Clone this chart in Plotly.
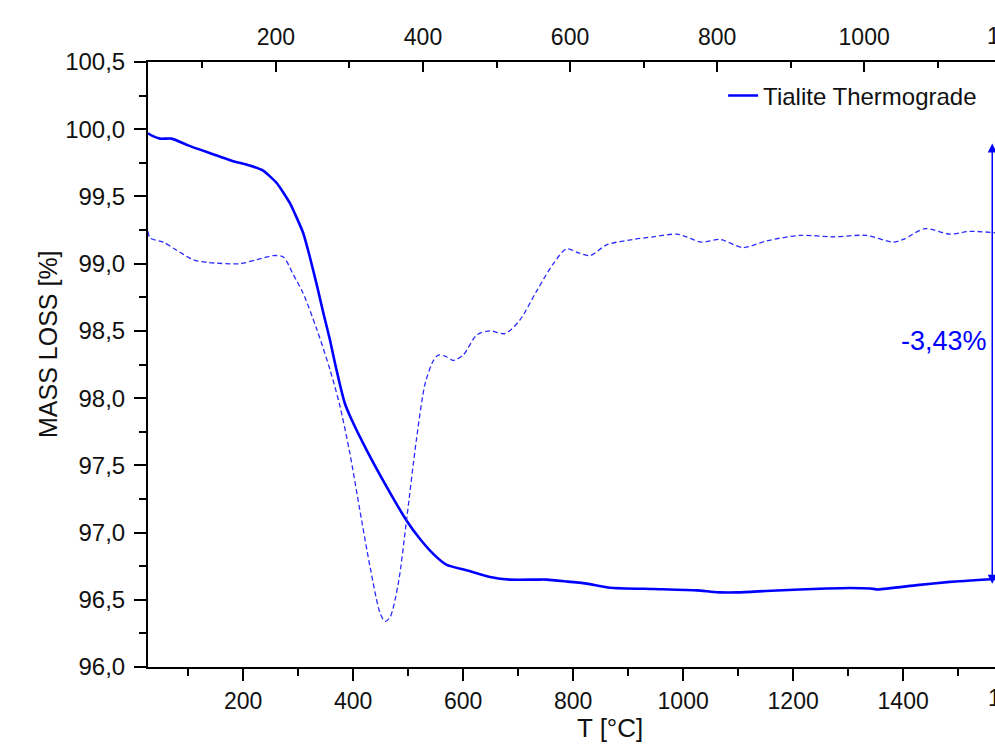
import plotly.graph_objects as go

# ---- data ----
tg_temp = [27, 35, 49, 70, 100, 134, 176, 212, 237, 261, 285, 309, 320, 334, 346, 358, 367,
           376, 385, 395, 425, 461, 497, 522, 546, 570, 606, 649, 685, 734, 752, 790, 825,
           867, 946, 1025, 1050, 1067, 1100, 1150, 1212, 1261, 1303, 1340, 1355, 1425, 1485,
           1567]
tg_mass = [99.97, 99.95, 99.93, 99.93, 99.88, 99.83, 99.77, 99.73, 99.69, 99.60, 99.45, 99.23,
           99.07, 98.84, 98.63, 98.43, 98.26, 98.10, 97.96, 97.86, 97.61, 97.34, 97.09, 96.95,
           96.84, 96.76, 96.72, 96.67, 96.65, 96.65, 96.65, 96.635, 96.62, 96.59, 96.58,
           96.57, 96.56, 96.555, 96.555, 96.565, 96.577, 96.584, 96.588, 96.584, 96.577,
           96.609, 96.633, 96.655]

dtg_temp = [27, 31, 55, 79, 109, 134, 194, 225, 255, 273, 291, 309, 334, 358, 376, 394, 412,
            431, 449, 458, 467, 482, 497, 515, 531, 546, 555, 568, 582, 600, 625, 649, 676,
            703, 734, 764, 788, 810, 831, 861, 909, 946, 988, 1006, 1033, 1067, 1109, 1152,
            1212, 1273, 1333, 1382, 1400, 1440, 1485, 1521, 1567]
dtg_vals = [99.24, 99.19, 99.16, 99.10, 99.03, 99.01, 99.00, 99.03, 99.06, 99.05, 98.92, 98.78,
            98.51, 98.21, 97.94, 97.59, 97.17, 96.74, 96.40, 96.34, 96.37, 96.62, 97.09, 97.69,
            98.11, 98.28, 98.32, 98.31, 98.28, 98.32, 98.47, 98.50, 98.48, 98.58, 98.80, 99.00,
            99.11, 99.08, 99.06, 99.14, 99.18, 99.20, 99.22, 99.20, 99.16, 99.18, 99.12, 99.17,
            99.21, 99.20, 99.21, 99.16, 99.18, 99.26, 99.22, 99.24, 99.23]

bottom_ticks = [200, 400, 600, 800, 1000, 1200, 1400]
top_ticks = [200, 400, 600, 800, 1000]
y_ticks = [96.0, 96.5, 97.0, 97.5, 98.0, 98.5, 99.0, 99.5, 100.0, 100.5]
x_range = [27, 1567]
top_range = [26, 1178]
y_range = [96.0, 100.5]

series_name = "Tialite Thermograde"
loss_label = "-3,43%"
arrow_temp = 1562
arrow_low, arrow_high = 96.62, 99.905

FONT = "Liberation Sans, Arial, sans-serif"
BLUE = "#0000ff"

fig = go.Figure()
fig.add_trace(go.Scatter(x=tg_temp, y=tg_mass, mode="lines", name=series_name,
                         line=dict(color=BLUE, width=2.6, shape="spline", smoothing=0.5)))
fig.add_trace(go.Scatter(x=dtg_temp, y=dtg_vals, mode="lines", showlegend=False,
                         line=dict(color="#2a2aff", width=1.3, dash="5px,3px",
                                   shape="spline", smoothing=0.8)))

fig.update_layout(
    width=995, height=751,
    margin=dict(l=148, r=0, t=62, b=84, pad=0),
    paper_bgcolor="white", plot_bgcolor="white",
    separators=",.",
    font=dict(family=FONT, size=23, color="#111111"),
    showlegend=True,
    legend=dict(x=0.679, y=0.944, xanchor="left", yanchor="middle",
                bgcolor="rgba(0,0,0,0)", font=dict(size=24, color="#111111")),
    xaxis=dict(range=x_range, tickmode="array", tickvals=bottom_ticks,
               ticks="outside", ticklen=12, tickwidth=2, tickcolor="black",
               showline=True, linewidth=2, linecolor="black", mirror=False,
               showgrid=False, zeroline=False,
               minor=dict(dtick=100, tick0=0, ticks="outside", ticklen=7, tickwidth=2,
                          tickcolor="black", showgrid=False),
               tickfont=dict(size=23)),
    xaxis2=dict(range=top_range, overlaying="x", side="top", anchor="y",
                tickmode="array", tickvals=top_ticks,
                ticks="inside", ticklen=10, tickwidth=2, tickcolor="black",
                showline=True, linewidth=2, linecolor="black",
                showgrid=False, zeroline=False, ticklabelstandoff=6,
                minor=dict(dtick=100, tick0=0, ticks="inside", ticklen=6, tickwidth=2,
                           tickcolor="black", showgrid=False),
                tickfont=dict(size=23)),
    yaxis=dict(range=y_range, tickmode="array", tickvals=y_ticks, tickformat=".1f",
               ticks="outside", ticklen=12, tickwidth=2, tickcolor="black",
               showline=True, linewidth=2, linecolor="black", mirror=False,
               showgrid=False, zeroline=False, ticklabelstandoff=4,
               minor=dict(dtick=0.25, tick0=96, ticks="outside", ticklen=7, tickwidth=2,
                          tickcolor="black", showgrid=False),
               tickfont=dict(size=24)),
)

# invisible trace to make the top axis subplot exist
fig.add_trace(go.Scatter(x=[top_range[0]], y=[y_range[0]], xaxis="x2", mode="markers",
                         marker=dict(opacity=0), showlegend=False, hoverinfo="skip"))

annotations = [
    # axis titles
    dict(text="MASS LOSS [%]", xref="paper", yref="paper", x=(48 - 148) / 847,
         y=(667 - 344) / 605, textangle=-90, showarrow=False,
         font=dict(size=25, color="#111111"), xanchor="center", yanchor="middle"),
    dict(text="T [°C]", xref="paper", yref="paper", x=(610 - 148) / 847,
         y=-(728 - 667) / 605, showarrow=False, font=dict(size=26, color="#111111"),
         xanchor="center", yanchor="middle"),
    # labels cut by the picture edge, as in the reference
    dict(text="1600", xref="paper", yref="paper", x=(1013 - 148) / 847,
         y=-(698 - 667) / 605, showarrow=False, font=dict(size=23, color="#111111"),
         xanchor="center", yanchor="middle"),
    dict(text="1200", xref="paper", yref="paper", x=(1012 - 148) / 847,
         y=1 + (62 - 36) / 605, showarrow=False, font=dict(size=23, color="#111111"),
         xanchor="center", yanchor="middle"),
    # double arrow for the mass loss
    dict(x=arrow_temp, y=arrow_low, ax=arrow_temp, ay=arrow_high, xref="x", yref="y",
         axref="x", ayref="y", text="", showarrow=True, arrowhead=2, arrowside="end+start",
         arrowsize=1.2, arrowwidth=1.5, arrowcolor=BLUE),
    dict(text=loss_label, x=1474, y=98.424, xref="x", yref="y", showarrow=False,
         font=dict(size=27, color=BLUE), xanchor="center", yanchor="middle"),
]
fig.update_layout(annotations=annotations)

fig.write_html("out.html")
